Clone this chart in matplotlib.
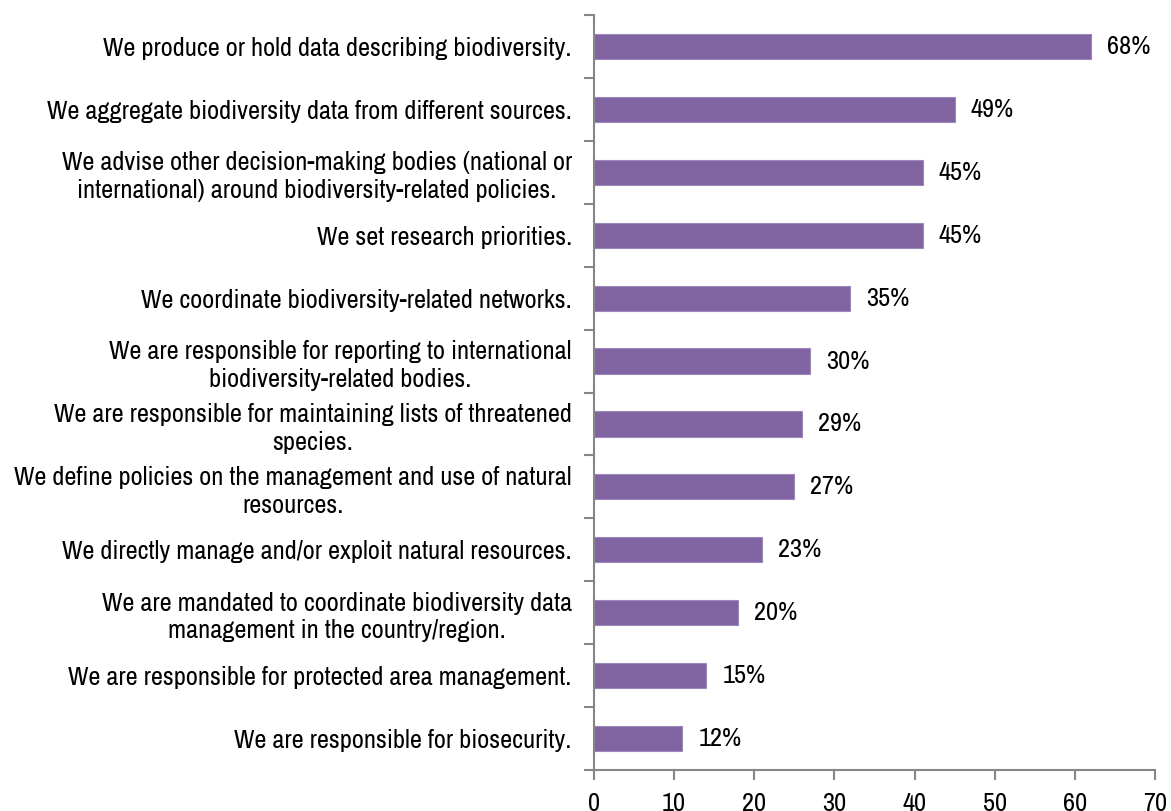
import matplotlib.pyplot as plt

plt.rcParams['font.family'] = ['Archivo Narrow', 'Liberation Sans', 'DejaVu Sans']

# categories, top to bottom
labels = [
    "We produce or hold data describing biodiversity.",
    "We aggregate biodiversity data from different sources.",
    "We advise other decision-making bodies (national or\ninternational) around biodiversity-related policies.",
    "We set research priorities.",
    "We coordinate biodiversity-related networks.",
    "We are responsible for reporting to international\nbiodiversity-related bodies.",
    "We are responsible for maintaining lists of threatened\nspecies.",
    "We define policies on the management and use of natural\nresources.",
    "We directly manage and/or exploit natural resources.",
    "We are mandated to coordinate biodiversity data\nmanagement in the country/region.",
    "We are responsible for protected area management.",
    "We are responsible for biosecurity.",
]
# bar lengths as drawn on the axis
values = [62, 45, 41, 41, 32, 27, 26, 25, 21, 18, 14, 11]
# percentage labels printed next to the bars
pct_labels = ["68%", "49%", "45%", "45%", "35%", "30%", "29%", "27%", "23%", "20%", "15%", "12%"]
xticks = [0, 10, 20, 30, 40, 50, 60, 70]

grey = "#868686"
fs = 19

fig = plt.figure(figsize=(11.71, 8.11), dpi=100)
ax = fig.add_axes([594 / 1171, 1 - 770 / 811, (1155 - 594) / 1171, 755 / 811])

pos = list(range(len(labels)))
ax.barh(pos, values, height=0.4, color="#8064A2", edgecolor="#9C86BA", linewidth=0.8)

for p, v, t in zip(pos, values, pct_labels):
    ax.text(v + 2, p, t, va="center", ha="left", fontsize=fs, color="black")

ax.set_ylim(len(labels) - 0.5, -0.5)
ax.set_xlim(0, 70)
ax.set_xticks(xticks)
ax.set_xticklabels([str(t) for t in xticks], fontsize=fs)

# category labels in the middle of each band, ticks on band edges
ax.set_yticks(pos)
ax.set_yticklabels(labels, fontsize=fs, multialignment="center", linespacing=1.25)
ax.set_yticks([i - 0.5 for i in range(len(labels) + 1)], minor=True)
ax.tick_params(axis="y", which="major", length=0, pad=16)
ax.tick_params(axis="y", which="minor", length=7, width=1.5, color=grey, direction="out")
ax.tick_params(axis="x", length=7, width=1.5, color=grey, direction="out", pad=9)

for s in ["top", "right"]:
    ax.spines[s].set_visible(False)
for s in ["left", "bottom"]:
    ax.spines[s].set_color(grey)
    ax.spines[s].set_linewidth(1.5)

fig.savefig("out.png", dpi=100)
